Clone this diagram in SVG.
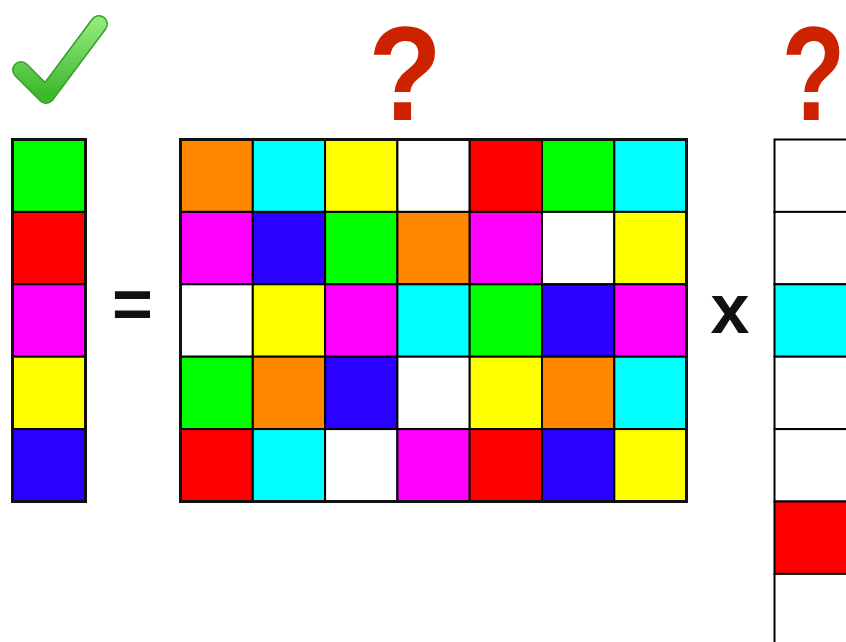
<svg xmlns="http://www.w3.org/2000/svg" width="846" height="642" viewBox="0 0 846 642">
<defs>
<style>
.c{stroke:#000;stroke-width:2}
.o{fill:none;stroke:#111;stroke-width:3}
.g{fill:#00ff00}.r{fill:#ff0000}.m{fill:#ff00ff}.y{fill:#ffff00}.b{fill:#2a00ff}.n{fill:#ff8800}.cy{fill:#00ffff}.w{fill:#ffffff}
.q{font-family:"Liberation Sans",Arial,sans-serif;font-weight:bold;font-size:134px;fill:#cc2200;text-anchor:middle}
.op{font-family:"Liberation Sans",Arial,sans-serif;font-weight:bold;fill:#111;text-anchor:middle}
</style>
<linearGradient id="chk" x1="0" y1="0" x2="0" y2="1">
<stop offset="0" stop-color="#8fe87a"/>
<stop offset="1" stop-color="#3cb82c"/>
</linearGradient>
</defs>
<rect width="846" height="642" fill="#fff"/>

<g id="check">
<path d="M 21 70 L 46 95 L 99 24" fill="none" stroke="#3a9d2c" stroke-width="18" stroke-linecap="round" stroke-linejoin="round"/>
<path d="M 21 70 L 46 95 L 99 24" fill="none" stroke="url(#chk)" stroke-width="15" stroke-linecap="round" stroke-linejoin="round"/>
</g>

<g id="q1"><text class="q" transform="translate(405 120) scale(0.9 1)" x="0" y="0">?</text></g>
<g id="q2"><text class="q" transform="translate(813.5 120) scale(0.78 1)" x="0" y="0">?</text></g>

<g id="equals"><text class="op" x="132.5" y="328" font-size="70">=</text></g>
<g id="times"><text class="op" x="730" y="333" font-size="70">x</text></g>

<g id="left-vector">
<rect class="c g" x="12.5" y="139.5" width="73" height="72.4"/>
<rect class="c r" x="12.5" y="211.9" width="73" height="72.4"/>
<rect class="c m" x="12.5" y="284.3" width="73" height="72.4"/>
<rect class="c y" x="12.5" y="356.7" width="73" height="72.4"/>
<rect class="c b" x="12.5" y="429.1" width="73" height="72.4"/>
<rect class="o" x="12.5" y="139.5" width="73" height="362"/>
</g>

<g id="matrix">
<rect class="c n" x="180.5" y="139.5" width="72.3" height="72.4"/>
<rect class="c cy" x="252.8" y="139.5" width="72.3" height="72.4"/>
<rect class="c y" x="325.1" y="139.5" width="72.3" height="72.4"/>
<rect class="c w" x="397.4" y="139.5" width="72.3" height="72.4"/>
<rect class="c r" x="469.7" y="139.5" width="72.3" height="72.4"/>
<rect class="c g" x="542" y="139.5" width="72.3" height="72.4"/>
<rect class="c cy" x="614.3" y="139.5" width="72.2" height="72.4"/>

<rect class="c m" x="180.5" y="211.9" width="72.3" height="72.4"/>
<rect class="c b" x="252.8" y="211.9" width="72.3" height="72.4"/>
<rect class="c g" x="325.1" y="211.9" width="72.3" height="72.4"/>
<rect class="c n" x="397.4" y="211.9" width="72.3" height="72.4"/>
<rect class="c m" x="469.7" y="211.9" width="72.3" height="72.4"/>
<rect class="c w" x="542" y="211.9" width="72.3" height="72.4"/>
<rect class="c y" x="614.3" y="211.9" width="72.2" height="72.4"/>

<rect class="c w" x="180.5" y="284.3" width="72.3" height="72.4"/>
<rect class="c y" x="252.8" y="284.3" width="72.3" height="72.4"/>
<rect class="c m" x="325.1" y="284.3" width="72.3" height="72.4"/>
<rect class="c cy" x="397.4" y="284.3" width="72.3" height="72.4"/>
<rect class="c g" x="469.7" y="284.3" width="72.3" height="72.4"/>
<rect class="c b" x="542" y="284.3" width="72.3" height="72.4"/>
<rect class="c m" x="614.3" y="284.3" width="72.2" height="72.4"/>

<rect class="c g" x="180.5" y="356.7" width="72.3" height="72.4"/>
<rect class="c n" x="252.8" y="356.7" width="72.3" height="72.4"/>
<rect class="c b" x="325.1" y="356.7" width="72.3" height="72.4"/>
<rect class="c w" x="397.4" y="356.7" width="72.3" height="72.4"/>
<rect class="c y" x="469.7" y="356.7" width="72.3" height="72.4"/>
<rect class="c n" x="542" y="356.7" width="72.3" height="72.4"/>
<rect class="c cy" x="614.3" y="356.7" width="72.2" height="72.4"/>

<rect class="c r" x="180.5" y="429.1" width="72.3" height="72.4"/>
<rect class="c cy" x="252.8" y="429.1" width="72.3" height="72.4"/>
<rect class="c w" x="325.1" y="429.1" width="72.3" height="72.4"/>
<rect class="c m" x="397.4" y="429.1" width="72.3" height="72.4"/>
<rect class="c r" x="469.7" y="429.1" width="72.3" height="72.4"/>
<rect class="c b" x="542" y="429.1" width="72.3" height="72.4"/>
<rect class="c y" x="614.3" y="429.1" width="72.2" height="72.4"/>

<rect class="o" x="180.5" y="139.5" width="506" height="362"/>
</g>

<g id="right-vector">
<rect class="c w" x="774.5" y="139.5" width="74" height="72.4"/>
<rect class="c w" x="774.5" y="211.9" width="74" height="72.4"/>
<rect class="c cy" x="774.5" y="284.3" width="74" height="72.4"/>
<rect class="c w" x="774.5" y="356.7" width="74" height="72.4"/>
<rect class="c w" x="774.5" y="429.1" width="74" height="72.4"/>
<rect class="c r" x="774.5" y="501.5" width="74" height="72.4"/>
<rect class="c w" x="774.5" y="573.9" width="74" height="72.4"/>
</g>
</svg>
